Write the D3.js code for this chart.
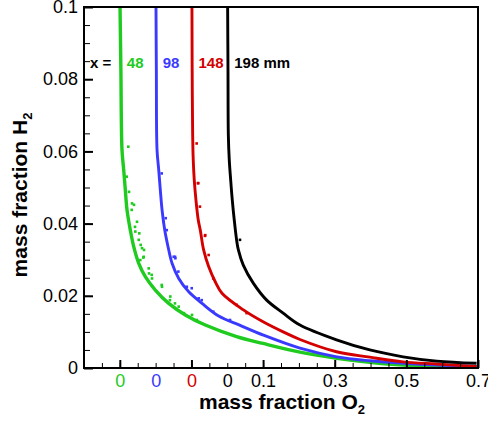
<!DOCTYPE html>
<html>
<head>
<meta charset="utf-8">
<script src="https://cdn.jsdelivr.net/npm/d3@7"></script>
<style>
	body { margin: 0; background: #fff; }
	svg text { font-family: "Liberation Sans", Arial, sans-serif; }
</style>
</head>
<body>
<div id="chartId"></div>
<script>

// stations downstream, each curve is shifted left by 0.1 in O2
var stations = ["48", "98", "148", "198 mm"];
var shifts = [-0.3, -0.2, -0.1, 0];

// [mass fraction O2, mass fraction H2] (O2 before shifting)
var curve48 = [[0.0006,0.1],[0.003,0.0825],[0.0061,0.0604],[0.0109,0.0548],[0.0154,0.0493],[0.0201,0.0438],
	[0.0293,0.0382],[0.0388,0.0336],[0.0528,0.029],[0.0712,0.0253],[0.0991,0.0216],[0.1365,0.0179],
	[0.1829,0.0147],[0.2387,0.0119],[0.326,0.0087],[0.4,0.0068],[0.503,0.0044],
	[0.606,0.0027],[0.698,0.0016],[0.792,0.0008],[0.885,0.0004],[0.996,0.0001]];
var curve98 = [[0.001,0.1],[0.002,0.0825],[0.0039,0.0604],[0.0087,0.0548],[0.0131,0.0493],[0.0179,0.0438],
	[0.0254,0.0382],[0.0346,0.0336],[0.0458,0.029],[0.0645,0.0248],[0.0924,0.0211],[0.1295,0.0179],
	[0.176,0.0144],[0.236,0.0118],[0.301,0.0091],[0.403,0.0055],[0.506,0.0031],
	[0.599,0.002],[0.692,0.0013],[0.785,0.0008],[0.897,0.0004]];
var curve148 = [[0.0014,0.1],[0.002,0.0825],[0.0034,0.0645],[0.005,0.0576],[0.0078,0.0521],[0.0126,0.0465],
	[0.019,0.041],[0.0246,0.0382],[0.034,0.0327],[0.048,0.0281],[0.0664,0.0239],[0.0852,0.0207],
	[0.145,0.0161],[0.2,0.0128],[0.256,0.01],[0.303,0.0079],[0.405,0.0045],[0.498,0.003],
	[0.591,0.0017],[0.685,0.0011],[0.796,0.0004]];
var curve198 = [[0.001,0.1],[0.002,0.0825],[0.003,0.0645],[0.0056,0.0576],[0.0095,0.0521],[0.014,0.0465],
	[0.0195,0.041],[0.026,0.0355],[0.031,0.0327],[0.0447,0.0285],[0.0726,0.0235],[0.11,0.0188],
	[0.156,0.0152],[0.203,0.0119],[0.305,0.0078],[0.398,0.005],[0.491,0.0031],[0.585,0.0019],
	[0.696,0.0013]];

// scattered points off the main band
var scatter48 = [[0.0237,0.0613],[0.0193,0.053],[0.0257,0.0488],[0.0341,0.0456],[0.0396,0.0452],[0.0332,0.0438],
	[0.048,0.0405],[0.0424,0.0391],[0.0433,0.0378],[0.0544,0.0373],[0.0528,0.0355],[0.0583,0.0341],
	[0.062,0.0332],[0.0676,0.0327],[0.0667,0.0308],[0.0656,0.0306],[0.0572,0.0299],[0.0807,0.0276],
	[0.0815,0.0262],[0.089,0.0258],[0.0899,0.0248],[0.117,0.023],[0.1178,0.0225],[0.14,0.0188],
	[0.141,0.0198],[0.154,0.0179],[0.1644,0.017],[0.179,0.0152],[0.2016,0.0147],[0.215,0.0133]];
var scatter98 = [[0.017,0.0539],[0.0226,0.0405],[0.0282,0.0415],[0.031,0.0382],[0.0505,0.0308],[0.055,0.0304],
	[0.0542,0.0308],[0.0634,0.0267],[0.0871,0.0225],[0.1008,0.0221],[0.1203,0.0193],[0.1287,0.0188],
	[0.161,0.0156],[0.2077,0.0133]];
var scatter148 = [[0.0145,0.0622],[0.0181,0.0512],[0.019,0.0512],[0.0237,0.0447],[0.0377,0.0366],
	[0.0385,0.0368],[0.048,0.0313],[0.0609,0.0248],[0.126,0.0175],[0.154,0.0152]];
var scatter198 = [[0.0355,0.0355]];

var yMajorTicks = [0, 0.02, 0.04, 0.06, 0.08, 0.1];
var yTickLabels = ["0", "0.02", "0.04", "0.06", "0.08", "0.1"];
var xMajorTicks = [-0.3, -0.1, 0.1, 0.3, 0.5, 0.7];
var xLabelTicks = [-0.3, -0.2, -0.1, 0, 0.1, 0.3, 0.5, 0.7];
var xTickLabels = ["0", "0", "0", "0", "0.1", "0.3", "0.5", "0.7"];

var curveColors = ["#1ecb1e", "#3a3aff", "#d40000", "#000000"];


function MixingChart(parentElement){
	var vis = this;
	vis.parentElement = parentElement;
	vis.curves = [curve48, curve98, curve148, curve198];
	vis.scatter = [scatter48, scatter98, scatter148, scatter198];
	vis.initVis();
};

MixingChart.prototype.initVis = function() {
	var vis = this;
	vis.width = 488;
	vis.height = 423;
	vis.left = 84; vis.right = 478; vis.top = 7; vis.bottom = 368;

	vis.svg = d3.select("#" + vis.parentElement).append("svg")
		.attr("width", vis.width)
		.attr("height", vis.height);

	vis.x = d3.scaleLinear().domain([-0.4, 0.7]).range([vis.left, vis.right]);
	vis.y = d3.scaleLinear().domain([0, 0.1]).range([vis.bottom, vis.top]);

	vis.svg.append("clipPath").attr("id", "plotClip")
		.append("rect")
		.attr("x", vis.left).attr("y", vis.top)
		.attr("width", vis.right - vis.left).attr("height", vis.bottom - vis.top);

	vis.updateVis();
};

MixingChart.prototype.updateVis = function() {
	var vis = this;

	var plot = vis.svg.append("g").attr("clip-path", "url(#plotClip)");

	vis.curves.forEach(function(pts, i) {
		var line = d3.line()
			.x(function(d) { return vis.x(d[0] + shifts[i]); })
			.y(function(d) { return vis.y(d[1]); })
			.curve(d3.curveCatmullRom.alpha(0.5));
		plot.append("path")
			.datum(pts)
			.attr("d", line)
			.attr("fill", "none")
			.attr("stroke", curveColors[i])
			.attr("stroke-width", i == 0 ? 3.4 : 2.9);

		plot.selectAll(".dot" + i).data(vis.scatter[i]).enter()
			.append("rect")
			.attr("class", "dot" + i)
			.attr("x", function(d) { return vis.x(d[0] + shifts[i]) - 1.3; })
			.attr("y", function(d) { return vis.y(d[1]) - 1.3; })
			.attr("width", 2.6).attr("height", 2.6)
			.attr("fill", curveColors[i]);
	});

	// y ticks (inward)
	var yMinor = d3.range(0, 0.1001, 0.005);
	vis.svg.append("g")
		.attr("transform", "translate(" + vis.left + ",0)")
		.call(d3.axisLeft(vis.y).tickValues(yMinor).tickSize(-6).tickFormat(""))
		.call(function(g) { g.select(".domain").remove(); g.selectAll("line").attr("stroke-width", 1); });
	vis.svg.append("g")
		.attr("transform", "translate(" + vis.left + ",0)")
		.call(d3.axisLeft(vis.y).tickValues(yMajorTicks).tickSize(-9).tickPadding(6)
			.tickFormat(function(d, i) { return yTickLabels[i]; }))
		.call(function(g) {
			g.select(".domain").remove();
			g.selectAll("line").attr("stroke-width", 2);
			g.selectAll("text").attr("font-size", 18).attr("fill", "#000");
		});

	// x ticks (inward)
	var xMinor = d3.range(-0.35, 0.7001, 0.05);
	vis.svg.append("g")
		.attr("transform", "translate(0," + vis.bottom + ")")
		.call(d3.axisBottom(vis.x).tickValues(xMinor).tickSize(-5).tickFormat(""))
		.call(function(g) { g.select(".domain").remove(); g.selectAll("line").attr("stroke-width", 1); });
	vis.svg.append("g")
		.attr("transform", "translate(0," + vis.bottom + ")")
		.call(d3.axisBottom(vis.x).tickValues(xMajorTicks).tickSize(-8).tickFormat(""))
		.call(function(g) { g.select(".domain").remove(); g.selectAll("line").attr("stroke-width", 2); });
	vis.svg.append("g")
		.attr("transform", "translate(0," + vis.bottom + ")")
		.call(d3.axisBottom(vis.x).tickValues(xLabelTicks).tickSize(0).tickPadding(6)
			.tickFormat(function(d, i) { return xTickLabels[i]; }))
		.call(function(g) {
			g.select(".domain").remove();
			g.selectAll("text").attr("font-size", 18)
				.attr("fill", function(d, i) { return i < 4 ? curveColors[i] : "#000"; });
		});

	// frame
	vis.svg.append("rect")
		.attr("x", vis.left).attr("y", vis.top)
		.attr("width", vis.right - vis.left).attr("height", vis.bottom - vis.top)
		.attr("fill", "none").attr("stroke", "#000").attr("stroke-width", 2);

	// station labels
	var legend = vis.svg.append("g").attr("font-size", 15).attr("font-weight", "bold");
	legend.append("text").attr("x", 90).attr("y", 68).text("x =");
	stations.forEach(function(s, i) {
		legend.append("text")
			.attr("x", vis.x(shifts[i]) + 7)
			.attr("y", 68)
			.attr("fill", curveColors[i])
			.text(s);
	});

	// axis titles
	var xt = vis.svg.append("text")
		.attr("x", (vis.left + vis.right) / 2 + 1)
		.attr("y", 409)
		.attr("text-anchor", "middle")
		.attr("font-size", 21).attr("font-weight", "bold");
	xt.append("tspan").text("mass fraction O");
	xt.append("tspan").attr("font-size", 13).attr("dy", 5).text("2");

	var yt = vis.svg.append("text")
		.attr("transform", "translate(27," + 195 + ") rotate(-90)")
		.attr("text-anchor", "middle")
		.attr("font-size", 21).attr("font-weight", "bold");
	yt.append("tspan").text("mass fraction H");
	yt.append("tspan").attr("font-size", 13).attr("dy", 5).text("2");
};

var chart = new MixingChart("chartId");

</script>
</body>
</html>
